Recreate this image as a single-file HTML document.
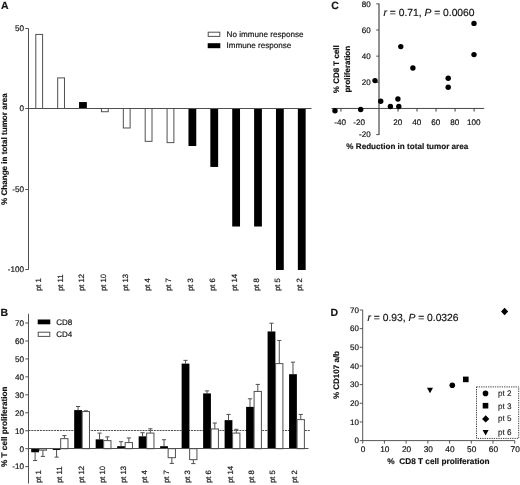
<!DOCTYPE html>
<html><head><meta charset="utf-8"><title>Figure</title>
<style>
html,body{margin:0;padding:0;background:#fff;}
body{width:520px;height:485px;overflow:hidden;}
text{stroke:#111;stroke-width:0.18px;paint-order:stroke;}
text[font-weight=bold]{stroke-width:0.15px;}
svg{display:block;text-rendering:geometricPrecision;transform:translateZ(0);will-change:transform;font-family:"Liberation Sans", sans-serif;fill:#111;}
</style></head><body>
<svg width="520" height="485" viewBox="0 0 520 485">
<rect x="0" y="0" width="520" height="485" fill="#fff"/>
<text x="1" y="9.1" font-size="10.5" font-weight="bold">A</text>
<rect x="35.80" y="34.44" width="6.8" height="74.06" fill="#fff" stroke="#505050" stroke-width="1.0"/>
<rect x="57.68" y="77.91" width="6.8" height="30.59" fill="#fff" stroke="#505050" stroke-width="1.0"/>
<rect x="79.06" y="102.06" width="7.8" height="6.44" fill="#000"/>
<rect x="101.44" y="108.50" width="6.8" height="3.22" fill="#fff" stroke="#505050" stroke-width="1.0"/>
<rect x="123.32" y="108.50" width="6.8" height="19.48" fill="#fff" stroke="#505050" stroke-width="1.0"/>
<rect x="145.20" y="108.50" width="6.8" height="32.84" fill="#fff" stroke="#505050" stroke-width="1.0"/>
<rect x="167.08" y="108.50" width="6.8" height="34.13" fill="#fff" stroke="#505050" stroke-width="1.0"/>
<rect x="188.46" y="108.50" width="7.8" height="37.51" fill="#000"/>
<rect x="210.34" y="108.50" width="7.8" height="58.44" fill="#000"/>
<rect x="232.22" y="108.50" width="7.8" height="118.01" fill="#000"/>
<rect x="254.10" y="108.50" width="7.8" height="118.01" fill="#000"/>
<rect x="275.98" y="108.50" width="7.8" height="161.48" fill="#000"/>
<rect x="297.86" y="108.50" width="7.8" height="161.48" fill="#000"/>
<path d="M28.5 28.50V269.50M28.5 108.5H311.5" stroke="#505050" stroke-width="1.0" fill="none"/>
<path d="M25.3 28.50H28.5" stroke="#505050" stroke-width="1.0"/>
<text x="23.9" y="31.30" font-size="8.1" text-anchor="end">50</text>
<path d="M25.3 108.50H28.5" stroke="#505050" stroke-width="1.0"/>
<text x="23.9" y="111.30" font-size="8.1" text-anchor="end">0</text>
<path d="M25.3 189.50H28.5" stroke="#505050" stroke-width="1.0"/>
<text x="23.9" y="192.30" font-size="8.1" text-anchor="end">-50</text>
<path d="M25.3 269.50H28.5" stroke="#505050" stroke-width="1.0"/>
<text x="23.9" y="272.30" font-size="8.1" text-anchor="end">-100</text>
<text transform="translate(6.9 149.1) rotate(-90)" font-size="8.08" font-weight="bold" text-anchor="middle">% Change in total tumor area</text>
<text transform="translate(40.85 291) rotate(-90)" font-size="7.7">pt 1</text>
<text transform="translate(62.62 291) rotate(-90)" font-size="7.7">pt 11</text>
<text transform="translate(84.39 291) rotate(-90)" font-size="7.7">pt 12</text>
<text transform="translate(106.16 291) rotate(-90)" font-size="7.7">pt 10</text>
<text transform="translate(127.93 291) rotate(-90)" font-size="7.7">pt 13</text>
<text transform="translate(149.70 291) rotate(-90)" font-size="7.7">pt 4</text>
<text transform="translate(171.47 291) rotate(-90)" font-size="7.7">pt 7</text>
<text transform="translate(193.24 291) rotate(-90)" font-size="7.7">pt 3</text>
<text transform="translate(215.01 291) rotate(-90)" font-size="7.7">pt 6</text>
<text transform="translate(236.78 291) rotate(-90)" font-size="7.7">pt 14</text>
<text transform="translate(258.55 291) rotate(-90)" font-size="7.7">pt 8</text>
<text transform="translate(280.32 291) rotate(-90)" font-size="7.7">pt 5</text>
<text transform="translate(302.09 291) rotate(-90)" font-size="7.7">pt 2</text>
<rect x="208.2" y="32.2" width="11.6" height="4.2" fill="#fff" stroke="#505050" stroke-width="1.0"/>
<rect x="207.7" y="43.2" width="12.6" height="5" fill="#000"/>
<text x="226.6" y="37.1" font-size="8.1">No immune response</text>
<text x="226.6" y="48.4" font-size="8.1">Immune response</text>
<text x="0.6" y="315.6" font-size="10.5" font-weight="bold">B</text>
<path d="M28.5 430.5H310" stroke="#222" stroke-width="0.8" stroke-dasharray="2 0.85" fill="none"/>
<path d="M35.10 452.29V460.55M33.00 460.55H37.20" stroke="#505050" stroke-width="1.0" fill="none"/>
<rect x="31.20" y="448.70" width="7.8" height="3.59" fill="#000"/>
<path d="M42.90 450.14V456.42M40.80 456.42H45.00" stroke="#505050" stroke-width="1.0" fill="none"/>
<rect x="39.20" y="448.70" width="7.3" height="1.44" fill="#fff" stroke="#505050" stroke-width="1.0"/>
<path d="M56.59 449.96V457.14M54.49 457.14H58.69" stroke="#505050" stroke-width="1.0" fill="none"/>
<rect x="52.69" y="448.70" width="7.8" height="1.26" fill="#000"/>
<path d="M64.39 438.65V435.59M62.29 435.59H66.49" stroke="#505050" stroke-width="1.0" fill="none"/>
<rect x="60.69" y="438.65" width="7.3" height="10.05" fill="#fff" stroke="#505050" stroke-width="1.0"/>
<path d="M78.08 410.10V406.51M75.98 406.51H80.18" stroke="#505050" stroke-width="1.0" fill="none"/>
<rect x="74.18" y="410.10" width="7.8" height="38.60" fill="#000"/>
<path d="M85.88 411.54V410.82M83.78 410.82H87.98" stroke="#505050" stroke-width="1.0" fill="none"/>
<rect x="82.18" y="411.54" width="7.3" height="37.16" fill="#fff" stroke="#505050" stroke-width="1.0"/>
<path d="M99.57 439.36V433.08M97.47 433.08H101.67" stroke="#505050" stroke-width="1.0" fill="none"/>
<rect x="95.67" y="439.36" width="7.8" height="9.34" fill="#000"/>
<path d="M107.37 440.62V436.85M105.27 436.85H109.47" stroke="#505050" stroke-width="1.0" fill="none"/>
<rect x="103.67" y="440.62" width="7.3" height="8.08" fill="#fff" stroke="#505050" stroke-width="1.0"/>
<path d="M121.06 446.19V441.70M118.96 441.70H123.16" stroke="#505050" stroke-width="1.0" fill="none"/>
<rect x="117.16" y="446.19" width="7.8" height="2.51" fill="#000"/>
<path d="M128.86 442.60V437.93M126.76 437.93H130.96" stroke="#505050" stroke-width="1.0" fill="none"/>
<rect x="125.16" y="442.60" width="7.3" height="6.10" fill="#fff" stroke="#505050" stroke-width="1.0"/>
<path d="M142.55 436.31V432.72M140.45 432.72H144.65" stroke="#505050" stroke-width="1.0" fill="none"/>
<rect x="138.65" y="436.31" width="7.8" height="12.39" fill="#000"/>
<path d="M150.35 433.08V428.77M148.25 428.77H152.45" stroke="#505050" stroke-width="1.0" fill="none"/>
<rect x="146.65" y="433.08" width="7.3" height="15.62" fill="#fff" stroke="#505050" stroke-width="1.0"/>
<path d="M164.04 446.19V439.72M161.94 439.72H166.14" stroke="#505050" stroke-width="1.0" fill="none"/>
<rect x="160.14" y="446.19" width="7.8" height="2.51" fill="#000"/>
<path d="M171.84 457.68V463.42M169.74 463.42H173.94" stroke="#505050" stroke-width="1.0" fill="none"/>
<rect x="168.14" y="448.70" width="7.3" height="8.98" fill="#fff" stroke="#505050" stroke-width="1.0"/>
<path d="M185.53 363.60V360.37M183.43 360.37H187.63" stroke="#505050" stroke-width="1.0" fill="none"/>
<rect x="181.63" y="363.60" width="7.8" height="85.10" fill="#000"/>
<path d="M193.33 459.65V463.60M191.23 463.60H195.43" stroke="#505050" stroke-width="1.0" fill="none"/>
<rect x="189.63" y="448.70" width="7.3" height="10.95" fill="#fff" stroke="#505050" stroke-width="1.0"/>
<path d="M207.02 393.40V390.89M204.92 390.89H209.12" stroke="#505050" stroke-width="1.0" fill="none"/>
<rect x="203.12" y="393.40" width="7.8" height="55.30" fill="#000"/>
<path d="M214.82 428.95V423.03M212.72 423.03H216.92" stroke="#505050" stroke-width="1.0" fill="none"/>
<rect x="211.12" y="428.95" width="7.3" height="19.75" fill="#fff" stroke="#505050" stroke-width="1.0"/>
<path d="M228.51 420.15V414.41M226.41 414.41H230.61" stroke="#505050" stroke-width="1.0" fill="none"/>
<rect x="224.61" y="420.15" width="7.8" height="28.55" fill="#000"/>
<path d="M236.31 433.08V429.31M234.21 429.31H238.41" stroke="#505050" stroke-width="1.0" fill="none"/>
<rect x="232.61" y="433.08" width="7.3" height="15.62" fill="#fff" stroke="#505050" stroke-width="1.0"/>
<path d="M250.00 406.87V398.79M247.90 398.79H252.10" stroke="#505050" stroke-width="1.0" fill="none"/>
<rect x="246.10" y="406.87" width="7.8" height="41.83" fill="#000"/>
<path d="M257.80 391.43V384.42M255.70 384.42H259.90" stroke="#505050" stroke-width="1.0" fill="none"/>
<rect x="254.10" y="391.43" width="7.3" height="57.27" fill="#fff" stroke="#505050" stroke-width="1.0"/>
<path d="M271.49 331.46V323.20M269.39 323.20H273.59" stroke="#505050" stroke-width="1.0" fill="none"/>
<rect x="267.59" y="331.46" width="7.8" height="117.24" fill="#000"/>
<path d="M279.29 363.60V340.44M277.19 340.44H281.39" stroke="#505050" stroke-width="1.0" fill="none"/>
<rect x="275.59" y="363.60" width="7.3" height="85.10" fill="#fff" stroke="#505050" stroke-width="1.0"/>
<path d="M292.98 374.19V362.16M290.88 362.16H295.08" stroke="#505050" stroke-width="1.0" fill="none"/>
<rect x="289.08" y="374.19" width="7.8" height="74.51" fill="#000"/>
<path d="M300.78 419.61V414.41M298.68 414.41H302.88" stroke="#505050" stroke-width="1.0" fill="none"/>
<rect x="297.08" y="419.61" width="7.3" height="29.09" fill="#fff" stroke="#505050" stroke-width="1.0"/>
<path d="M28.5 313.8V483.5M28.5 448.5H308.5" stroke="#505050" stroke-width="1.0" fill="none"/>
<path d="M25.3 466.65H28.5" stroke="#505050" stroke-width="1.0"/>
<text x="23.9" y="469.45" font-size="8.1" text-anchor="end">-10</text>
<path d="M25.3 448.70H28.5" stroke="#505050" stroke-width="1.0"/>
<text x="23.9" y="451.50" font-size="8.1" text-anchor="end">0</text>
<path d="M25.3 430.75H28.5" stroke="#505050" stroke-width="1.0"/>
<text x="23.9" y="433.55" font-size="8.1" text-anchor="end">10</text>
<path d="M25.3 412.79H28.5" stroke="#505050" stroke-width="1.0"/>
<text x="23.9" y="415.59" font-size="8.1" text-anchor="end">20</text>
<path d="M25.3 394.84H28.5" stroke="#505050" stroke-width="1.0"/>
<text x="23.9" y="397.64" font-size="8.1" text-anchor="end">30</text>
<path d="M25.3 376.88H28.5" stroke="#505050" stroke-width="1.0"/>
<text x="23.9" y="379.68" font-size="8.1" text-anchor="end">40</text>
<path d="M25.3 358.93H28.5" stroke="#505050" stroke-width="1.0"/>
<text x="23.9" y="361.73" font-size="8.1" text-anchor="end">50</text>
<path d="M25.3 340.98H28.5" stroke="#505050" stroke-width="1.0"/>
<text x="23.9" y="343.78" font-size="8.1" text-anchor="end">60</text>
<path d="M25.3 323.02H28.5" stroke="#505050" stroke-width="1.0"/>
<text x="23.9" y="325.82" font-size="8.1" text-anchor="end">70</text>
<text transform="translate(6.9 426.7) rotate(-90)" font-size="8.2" font-weight="bold" text-anchor="middle">% T cell proliferation</text>
<text transform="translate(40.90 483.0) rotate(-90)" font-size="7.7">pt 1</text>
<text transform="translate(62.20 483.0) rotate(-90)" font-size="7.7">pt 11</text>
<text transform="translate(83.50 483.0) rotate(-90)" font-size="7.7">pt 12</text>
<text transform="translate(104.80 483.0) rotate(-90)" font-size="7.7">pt 10</text>
<text transform="translate(126.10 483.0) rotate(-90)" font-size="7.7">pt 13</text>
<text transform="translate(147.40 483.0) rotate(-90)" font-size="7.7">pt 4</text>
<text transform="translate(168.70 483.0) rotate(-90)" font-size="7.7">pt 7</text>
<text transform="translate(190.00 483.0) rotate(-90)" font-size="7.7">pt 3</text>
<text transform="translate(211.30 483.0) rotate(-90)" font-size="7.7">pt 6</text>
<text transform="translate(232.60 483.0) rotate(-90)" font-size="7.7">pt 14</text>
<text transform="translate(253.90 483.0) rotate(-90)" font-size="7.7">pt 8</text>
<text transform="translate(275.20 483.0) rotate(-90)" font-size="7.7">pt 5</text>
<text transform="translate(296.50 483.0) rotate(-90)" font-size="7.7">pt 2</text>
<rect x="37.7" y="319.5" width="12.6" height="4.8" fill="#000"/>
<rect x="38.2" y="332.2" width="11.6" height="4.2" fill="#fff" stroke="#505050" stroke-width="1.0"/>
<text x="56.2" y="324.8" font-size="8">CD8</text>
<text x="56.2" y="337.2" font-size="8">CD4</text>
<text x="331.2" y="9.3" font-size="10.5" font-weight="bold">C</text>
<path d="M379.0 3.45V135.00" stroke="#383838" stroke-width="1.1" fill="none"/>
<path d="M331.45 108.45H484.21" stroke="#484848" stroke-width="1" fill="none"/>
<path d="M376.2 3.85H379.0" stroke="#444" stroke-width="0.9"/>
<text x="370.6" y="6.65" font-size="8" text-anchor="end">80</text>
<path d="M376.2 30.00H379.0" stroke="#444" stroke-width="0.9"/>
<text x="370.6" y="32.80" font-size="8" text-anchor="end">60</text>
<path d="M376.2 56.15H379.0" stroke="#444" stroke-width="0.9"/>
<text x="370.6" y="58.95" font-size="8" text-anchor="end">40</text>
<path d="M376.2 82.30H379.0" stroke="#444" stroke-width="0.9"/>
<text x="370.6" y="85.10" font-size="8" text-anchor="end">20</text>
<path d="M376.2 134.60H379.0" stroke="#444" stroke-width="0.9"/>
<text x="370.6" y="137.40" font-size="8" text-anchor="end">-20</text>
<path d="M340.96 108.45V111.55" stroke="#3c3c3c" stroke-width="1"/>
<text x="340.16" y="124.8" font-size="8.1" text-anchor="middle">-40</text>
<path d="M359.98 108.45V111.55" stroke="#3c3c3c" stroke-width="1"/>
<text x="359.18" y="124.8" font-size="8.1" text-anchor="middle">-20</text>
<path d="M398.02 108.45V111.55" stroke="#3c3c3c" stroke-width="1"/>
<text x="397.72" y="124.8" font-size="8.1" text-anchor="middle">20</text>
<path d="M417.04 108.45V111.55" stroke="#3c3c3c" stroke-width="1"/>
<text x="416.74" y="124.8" font-size="8.1" text-anchor="middle">40</text>
<path d="M436.06 108.45V111.55" stroke="#3c3c3c" stroke-width="1"/>
<text x="435.76" y="124.8" font-size="8.1" text-anchor="middle">60</text>
<path d="M455.08 108.45V111.55" stroke="#3c3c3c" stroke-width="1"/>
<text x="454.78" y="124.8" font-size="8.1" text-anchor="middle">80</text>
<path d="M474.10 108.45V111.55" stroke="#3c3c3c" stroke-width="1"/>
<text x="473.80" y="124.8" font-size="8.1" text-anchor="middle">100</text>
<circle cx="335" cy="110.8" r="2.7" fill="#000"/>
<circle cx="360.7" cy="109.5" r="2.7" fill="#000"/>
<circle cx="375" cy="80.6" r="2.7" fill="#000"/>
<circle cx="380.7" cy="101.2" r="2.7" fill="#000"/>
<circle cx="390.4" cy="106.5" r="2.7" fill="#000"/>
<circle cx="397.9" cy="99" r="2.7" fill="#000"/>
<circle cx="398.8" cy="106.5" r="2.7" fill="#000"/>
<circle cx="400.8" cy="46.6" r="2.7" fill="#000"/>
<circle cx="412.9" cy="68" r="2.7" fill="#000"/>
<circle cx="448.2" cy="78.3" r="2.7" fill="#000"/>
<circle cx="448.2" cy="87.3" r="2.7" fill="#000"/>
<circle cx="474" cy="23.4" r="2.7" fill="#000"/>
<circle cx="474" cy="54.6" r="2.7" fill="#000"/>
<text x="383.5" y="15.9" font-size="10.3"><tspan font-style="italic">r</tspan> = 0.71, <tspan font-style="italic">P</tspan> = 0.0060</text>
<text transform="translate(338.9 69.2) rotate(-90)" font-size="8" font-weight="bold" text-anchor="middle">% CD8 T cell</text>
<text transform="translate(349.5 69.2) rotate(-90)" font-size="8" font-weight="bold" text-anchor="middle">proliferation</text>
<text x="407.3" y="149.2" font-size="8.1" font-weight="bold" text-anchor="middle">% Reduction in total tumor area</text>
<text x="330.4" y="315.7" font-size="10.5" font-weight="bold">D</text>
<path d="M362.7 309.98V440.6H514.74" stroke="#444" stroke-width="0.9" fill="none"/>
<path d="M359.7 440.60H362.7" stroke="#444" stroke-width="0.9"/>
<text x="358.9" y="443.40" font-size="8" text-anchor="end">0</text>
<path d="M362.70 440.6V443.6" stroke="#444" stroke-width="0.9"/>
<text x="363.10" y="452.3" font-size="8.3" text-anchor="middle">0</text>
<path d="M359.7 421.94H362.7" stroke="#444" stroke-width="0.9"/>
<text x="358.9" y="424.74" font-size="8" text-anchor="end">10</text>
<path d="M384.42 440.6V443.6" stroke="#444" stroke-width="0.9"/>
<text x="384.82" y="452.3" font-size="8.3" text-anchor="middle">10</text>
<path d="M359.7 403.28H362.7" stroke="#444" stroke-width="0.9"/>
<text x="358.9" y="406.08" font-size="8" text-anchor="end">20</text>
<path d="M406.14 440.6V443.6" stroke="#444" stroke-width="0.9"/>
<text x="406.54" y="452.3" font-size="8.3" text-anchor="middle">20</text>
<path d="M359.7 384.62H362.7" stroke="#444" stroke-width="0.9"/>
<text x="358.9" y="387.42" font-size="8" text-anchor="end">30</text>
<path d="M427.86 440.6V443.6" stroke="#444" stroke-width="0.9"/>
<text x="428.26" y="452.3" font-size="8.3" text-anchor="middle">30</text>
<path d="M359.7 365.96H362.7" stroke="#444" stroke-width="0.9"/>
<text x="358.9" y="368.76" font-size="8" text-anchor="end">40</text>
<path d="M449.58 440.6V443.6" stroke="#444" stroke-width="0.9"/>
<text x="449.98" y="452.3" font-size="8.3" text-anchor="middle">40</text>
<path d="M359.7 347.30H362.7" stroke="#444" stroke-width="0.9"/>
<text x="358.9" y="350.10" font-size="8" text-anchor="end">50</text>
<path d="M471.30 440.6V443.6" stroke="#444" stroke-width="0.9"/>
<text x="471.70" y="452.3" font-size="8.3" text-anchor="middle">50</text>
<path d="M359.7 328.64H362.7" stroke="#444" stroke-width="0.9"/>
<text x="358.9" y="331.44" font-size="8" text-anchor="end">60</text>
<path d="M493.02 440.6V443.6" stroke="#444" stroke-width="0.9"/>
<text x="493.42" y="452.3" font-size="8.3" text-anchor="middle">60</text>
<path d="M359.7 309.98H362.7" stroke="#444" stroke-width="0.9"/>
<text x="358.9" y="312.78" font-size="8" text-anchor="end">70</text>
<path d="M514.74 440.6V443.6" stroke="#444" stroke-width="0.9"/>
<text x="515.14" y="452.3" font-size="8.3" text-anchor="middle">70</text>
<text x="367.5" y="321.2" font-size="10.3"><tspan font-style="italic">r</tspan> = 0.93, <tspan font-style="italic">P</tspan> = 0.0326</text>
<text transform="translate(338.9 375.0) rotate(-90)" font-size="8" font-weight="bold" text-anchor="middle">% CD107 a/b</text>
<text x="387.3" y="463.9" font-size="8.25" font-weight="bold" style="white-space:pre">%  CD8 T cell proliferation</text>
<path d="M427 387.79999999999995H433L430 393.2Z" fill="#000"/>
<circle cx="452.3" cy="385.2" r="2.8" fill="#000"/>
<rect x="463.0" y="376.59999999999997" width="5.6" height="5.6" fill="#000"/>
<path d="M501.0 311.5L504.6 307.8L508.20000000000005 311.5L504.6 315.2Z" fill="#000"/>
<rect x="476.5" y="386.9" width="42.2" height="51.5" fill="#fff" stroke="#444" stroke-width="1" stroke-dasharray="1.3 1"/>
<circle cx="485.5" cy="393.4" r="2.8" fill="#000"/>
<rect x="482.7" y="402.9" width="5.6" height="5.6" fill="#000"/>
<path d="M482.09999999999997 418.9L485.7 415.2L489.3 418.9L485.7 422.59999999999997Z" fill="#000"/>
<path d="M482.6 430.09999999999997H488.6L485.6 435.5Z" fill="#000"/>
<text x="497.9" y="396.1" font-size="8.1" style="stroke-width:0.1px">pt 2</text>
<text x="497.9" y="408.8" font-size="8.1" style="stroke-width:0.1px">pt 3</text>
<text x="497.9" y="421.4" font-size="8.1" style="stroke-width:0.1px">pt 5</text>
<text x="497.9" y="435.2" font-size="8.1" style="stroke-width:0.1px">pt 6</text>
</svg>
</body></html>
